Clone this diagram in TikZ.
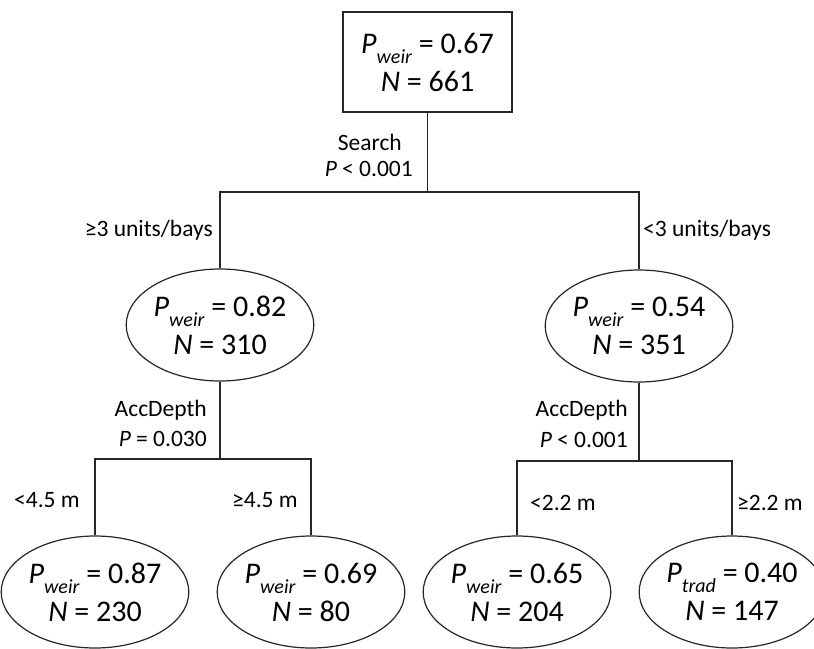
\documentclass[tikz,border=0pt]{standalone}
\usepackage{fontspec}
\setmainfont{Carlito}
\usetikzlibrary{shapes.geometric}
\newcommand\Pof[1]{\textit{P}\raisebox{-0.34em}{\fontsize{20}{20}\selectfont\textit{#1}}}
\tikzset{
  px/.style={x=1pt,y=1pt},
  link/.style={draw=black!85,line width=1.3pt},
  rootbox/.style={draw=black!85,line width=1.3pt,rectangle,minimum width=169pt,minimum height=100pt,inner sep=0pt,align=center,font=\fontsize{30}{38}\selectfont},
  leaf/.style={draw=black!85,line width=1.2pt,ellipse,minimum width=166pt,minimum height=112pt,inner sep=0pt,align=center,font=\fontsize{30}{38}\selectfont},
  lbl/.style={inner sep=0pt,font=\fontsize{23.5}{28}\selectfont}
}
\begin{document}
\begin{tikzpicture}[px]
\useasboundingbox (0,0) rectangle (814,-648);
% nodes
\node[rootbox] (root) at (427.5,-62) {\Pof{weir} = 0.67\\ \textit{N} = 661};
\node[leaf] (L) at (220,-325) {\Pof{weir} = 0.82\\ \textit{N} = 310};
\node[leaf] (R) at (639,-326) {\Pof{weir} = 0.54\\ \textit{N} = 351};
\node[leaf] (LL) at (95,-592) {\Pof{weir} = 0.87\\ \textit{N} = 230};
\node[leaf] (LR) at (311,-592) {\Pof{weir} = 0.69\\ \textit{N} = 80};
\node[leaf] (RL) at (517,-592) {\Pof{weir} = 0.65\\ \textit{N} = 204};
\node[leaf] (RR) at (732,-592) {\Pof{trad} = 0.40\\ \textit{N} = 147};
% split points
\coordinate (j0) at (427.5,-192);
\coordinate (j1) at (220,-459);
\coordinate (j2) at (639,-461);
% connectors
\draw[link] (root.south) -- (j0);
\draw[link] (L.north) |- (j0) -| (R.north);
\draw[link] (L.south) -- (j1);
\draw[link] (LL.north) |- (j1) -| (LR.north);
\draw[link] (R.south) -- (j2);
\draw[link] (RL.north) |- (j2) -| (RR.north);
% split labels
\node[lbl,anchor=east] (s0a) at (402,-142) {Search};
\node[lbl,anchor=east] (s0b) at (413,-169) {\textit{P} < 0.001};
\node[lbl,anchor=east] (e1) at (213,-230) {≥3 units/bays};
\node[lbl,anchor=west] (e2) at (643,-230) {<3 units/bays};
\node[lbl,anchor=east] (s1a) at (207,-410) {AccDepth};
\node[lbl,anchor=east] (s1b) at (207,-439) {\textit{P} = 0.030};
\node[lbl,anchor=east] (s2a) at (628,-410) {AccDepth};
\node[lbl,anchor=east] (s2b) at (628,-440) {\textit{P} < 0.001};
\node[lbl,anchor=west] (e3) at (14,-500) {<4.5 m};
\node[lbl,anchor=west] (e4) at (232,-500) {≥4.5 m};
\node[lbl,anchor=west] (e5) at (530,-503) {<2.2 m};
\node[lbl,anchor=west] (e6) at (737,-503) {≥2.2 m};
\end{tikzpicture}
\end{document}
